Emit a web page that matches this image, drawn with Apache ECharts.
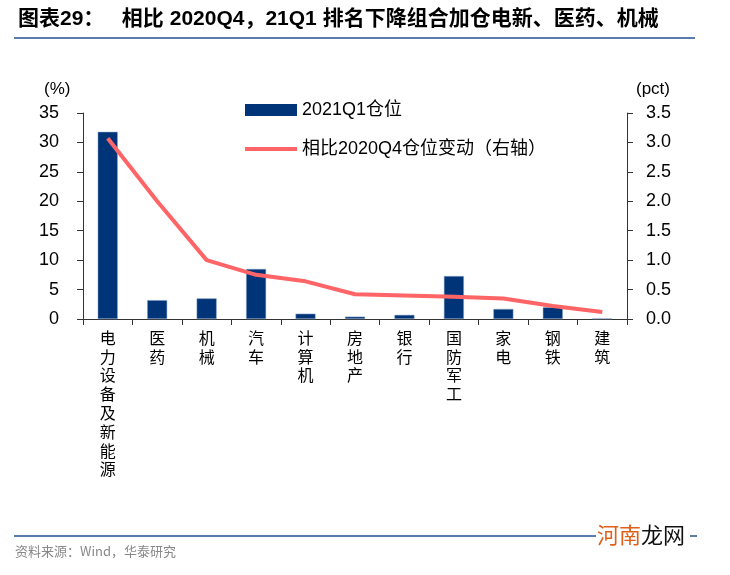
<!DOCTYPE html>
<html><head><meta charset="utf-8">
<script src="https://cdn.jsdelivr.net/npm/echarts@6/dist/echarts.min.js"></script>
<style>html,body{margin:0;padding:0;background:#fff}#c{width:730px;height:575px}</style>
</head><body><div id="c"></div>
<script>
const categories = ['电力设备及新能源','医药','机械','汽车','计算机','房地产','银行','国防军工','家电','钢铁','建筑'];
const position2021Q1 = [31.8, 3.2, 3.5, 8.5, 0.9, 0.4, 0.7, 7.3, 1.7, 2.0, 0.1];
const changeVs2020Q4 = [3.07, 2.0, 1.0, 0.75, 0.64, 0.42, 0.40, 0.38, 0.35, 0.22, 0.12];
const leftTicks = [0, 5, 10, 15, 20, 25, 30, 35];
const rightTicks = [0, 0.5, 1.0, 1.5, 2.0, 2.5, 3.0, 3.5];

const font = '"Liberation Sans", Arial, "Noto Sans CJK SC", sans-serif';
const chart = echarts.init(document.getElementById('c'));
chart.setOption({
  animation: false,
  grid: {left: 83, right: 103, top: 113, bottom: 256},
  legend: {
    orient: 'vertical', left: 238, top: 96, itemWidth: 52, itemHeight: 12, itemGap: 21,
    textStyle: {fontSize: 18, fontFamily: font, color: '#000'},
    data: [
      {name: '2021Q1仓位', icon: 'rect', itemStyle: {borderWidth: 0}},
      {name: '相比2020Q4仓位变动（右轴）', itemStyle: {opacity: 0}, lineStyle: {width: 4, color: '#ff6466'}}
    ]
  },
  xAxis: {
    type: 'category', data: categories,
    axisLine: {lineStyle: {color: '#333', width: 1}},
    axisTick: {show: true, alignWithLabel: false, length: 6, lineStyle: {color: '#333'}},
    axisLabel: {interval: 0, fontSize: 16, lineHeight: 18.8, color: '#000', fontFamily: font, margin: 11,
      verticalAlign: 'top',
      formatter: v => v.split('').join('\n')}
  },
  yAxis: [
    {type: 'value', min: 0, max: 35, interval: 5, splitLine: {show: false},
     axisLine: {show: true, lineStyle: {color: '#333'}},
     axisTick: {show: true, length: 6, lineStyle: {color: '#333'}},
     axisLabel: {fontSize: 18, color: '#000', fontFamily: font, margin: 24}},
    {type: 'value', min: 0, max: 3.5, interval: 0.5, splitLine: {show: false},
     axisLine: {show: true, lineStyle: {color: '#333'}},
     axisTick: {show: true, length: 6, lineStyle: {color: '#333'}},
     axisLabel: {fontSize: 18, color: '#000', fontFamily: font, margin: 19,
       formatter: v => v.toFixed(1)}}
  ],
  series: [
    {name: '2021Q1仓位', type: 'bar', data: position2021Q1, barWidth: 20,
     itemStyle: {color: '#003478', borderColor: '#8fa8c8', borderWidth: 0.5}},
    {name: '相比2020Q4仓位变动（右轴）', type: 'line', yAxisIndex: 1, data: changeVs2020Q4,
     symbol: 'none', lineStyle: {color: '#ff6466', width: 4}, itemStyle: {color: '#ff6466'}}
  ],
  graphic: [
    {type: 'text', left: 18, top: 9, style: {text: '图表29：   相比 2020Q4，21Q1 排名下降组合加仓电新、医药、机械',
      font: 'bold 21px "Liberation Sans", "Noto Sans CJK SC", sans-serif', fill: '#000'}},
    {type: 'rect', shape: {x: 14, y: 37, width: 681, height: 2}, style: {fill: '#5b7bac'}},
    {type: 'text', left: 44, top: 81, style: {text: '(%)', font: '17px ' + font, fill: '#000'}},
    {type: 'text', left: 636, top: 81, style: {text: '(pct)', font: '17px ' + font, fill: '#000'}},
    {type: 'rect', shape: {x: 14, y: 535, width: 683, height: 2}, style: {fill: '#5b7bac'}},
    {type: 'text', left: 15, top: 545, style: {text: '资料来源：Wind，华泰研究', font: '13px "Noto Sans CJK SC", sans-serif', fill: '#888'}},
    {type: 'rect', shape: {x: 596, y: 524, width: 94, height: 26}, style: {fill: '#fff'}},
    {type: 'text', left: 597, top: 524, style: {text: '河南', font: '22px "Noto Sans CJK SC", sans-serif', fill: '#e0601a'}},
    {type: 'text', left: 641, top: 524, style: {text: '龙网', font: '22px "Noto Sans CJK SC", sans-serif', fill: '#111'}}
  ]
});
</script></body></html>
